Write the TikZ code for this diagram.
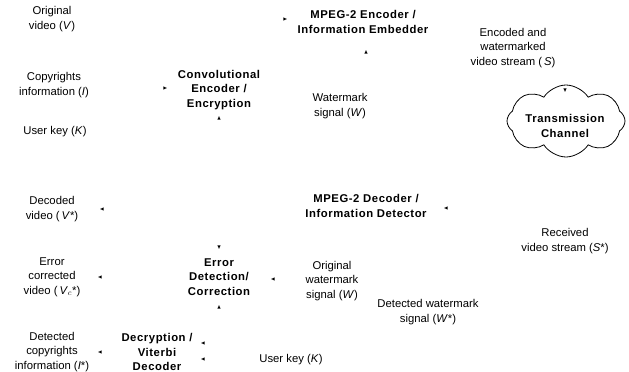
\documentclass[tikz,border=0pt]{standalone}
\usepackage{fontspec}
\setmainfont{Liberation Sans}
\newfontfamily\boldspaced[LetterSpace=5]{Liberation Sans}
\usetikzlibrary{shapes.symbols}
\tikzset{
  lbl/.style={align=center, inner sep=0pt, font=\fontsize{11.3}{14.6}\selectfont},
  blk/.style={lbl, font=\fontsize{11.3}{14.6}\selectfont\boldspaced\bfseries},
  cloudbox/.style={cloud, cloud puffs=8, cloud puff arc=115, aspect=1.7, draw=black, line width=0.8pt,
    minimum width=118pt, minimum height=72pt, inner sep=0pt},
  tip/.pic={\fill[black] (1.8,0) -- (-1.6,1.6) -- (-1.6,-1.6) -- cycle;}
}
\begin{document}
\begin{tikzpicture}[x=1pt,y=-1pt]
\useasboundingbox (0,0) rectangle (629,372);
% encoder side
\node[lbl] (origv) at (52,19) {Original\\video (\textit{V})};
\node[lbl] (copy) at (54,85) {Copyrights\\information (\textit{I})};
\node[lbl] (ukey1) at (55,132) {User key (\textit{K})};
\node[blk] (conv) at (219,90) {Convolutional\\Encoder /\\Encryption};
\node[blk] (enc) at (363,22) {MPEG-2 Encoder /\\Information Embedder};
\node[lbl] (wm) at (340,106) {Watermark\\signal (\textit{W})};
\node[lbl] (ews) at (513,48) {Encoded and\\watermarked\\video stream (\,\textit{S})};
\node[cloudbox] (chan) at (566,121) {};
\node[blk] (chant) at (565,126) {Transmission\\Channel};
% decoder side
\node[blk] (dec) at (366,206) {MPEG-2 Decoder /\\Information Detector};
\node[lbl] (rvs) at (565,241) {Received\\video stream (\textit{S}*)};
\node[lbl] (decv) at (52,209) {Decoded\\video (\,\textit{V}*)};
\node[blk] (edc) at (219,277) {Error\\Detection/\\Correction};
\node[lbl] (ecv) at (52,277) {Error\\corrected\\video (\,\textit{V}$_{c}$*)};
\node[lbl] (owm) at (332,281) {Original\\watermark\\signal (\textit{W})};
\node[lbl] (dwm) at (428,312) {Detected watermark\\signal (\textit{W}*)};
\node[lbl] (dcp) at (52,352) {Detected\\copyrights\\information (\textit{I}*)};
\node[blk] (vit) at (157,352) {Decryption /\\Viterbi\\Decoder};
\node[lbl] (ukey2) at (291,360) {User key (\textit{K})};
% arrowheads (connector lines are not shown)
\pic at (285,19) {tip};
\pic at (165,88) {tip};
\pic[rotate=90] at (219,118) {tip};
\pic[rotate=90] at (366,52) {tip};
\pic[rotate=-90] at (565,90) {tip};
\pic[rotate=180] at (446,208) {tip};
\pic[rotate=180] at (102,209) {tip};
\pic[rotate=-90] at (219,247) {tip};
\pic[rotate=180] at (100,277) {tip};
\pic[rotate=180] at (273,279) {tip};
\pic[rotate=90] at (219,307) {tip};
\pic[rotate=180] at (100,352) {tip};
\pic[rotate=180] at (203,343) {tip};
\pic[rotate=180] at (203,359) {tip};
\end{tikzpicture}
\end{document}
